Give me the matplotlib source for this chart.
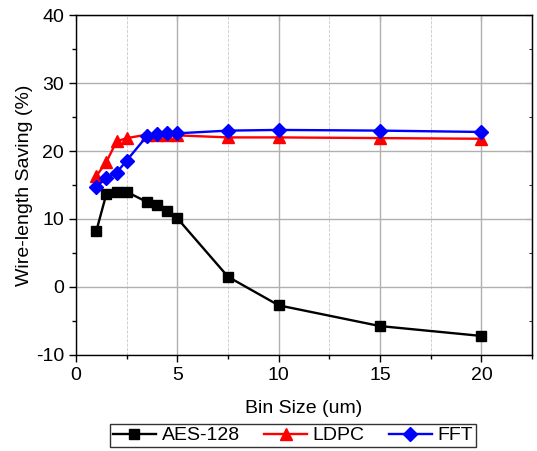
import matplotlib.pyplot as plt
from matplotlib.ticker import MultipleLocator

plt.rcParams['font.family'] = ['Liberation Sans', 'DejaVu Sans']
plt.rcParams['axes.unicode_minus'] = False

bin_size = [1, 1.5, 2, 2.5, 3.5, 4, 4.5, 5, 7.5, 10, 15, 20]
aes = [8.2, 13.7, 13.9, 14.0, 12.5, 12.0, 11.2, 10.1, 1.5, -2.7, -5.75, -7.2]
ldpc = [16.3, 18.4, 21.4, 21.9, 22.4, 22.4, 22.3, 22.3, 22.0, 22.0, 21.9, 21.8]
fft = [14.7, 16.1, 16.8, 18.6, 22.2, 22.5, 22.6, 22.6, 23.0, 23.1, 23.0, 22.8]

fig = plt.figure(figsize=(5.37, 4.51), dpi=100)
ax = fig.add_axes([0.1415, 0.2129, 0.8495, 0.7538])

ax.plot(bin_size, aes, color='black', marker='s', markersize=7.5, lw=1.7, label='AES-128', zorder=3)
ax.plot(bin_size, ldpc, color='red', marker='^', markersize=8.5, lw=1.7, label='LDPC', zorder=3)
ax.plot(bin_size, fft, color='blue', marker='D', markersize=7.5, lw=1.7, label='FFT', zorder=4)

ax.set_xlim(0, 22.5)
ax.set_ylim(-10, 40)
ax.xaxis.set_major_locator(MultipleLocator(5))
ax.xaxis.set_minor_locator(MultipleLocator(2.5))
ax.yaxis.set_major_locator(MultipleLocator(10))
ax.yaxis.set_minor_locator(MultipleLocator(5))

ax.grid(which='major', color='#b0b0b0', lw=1.0, ls='-')
ax.grid(which='minor', axis='x', color='#c8c8c8', lw=0.6, ls='--')
ax.grid(which='minor', axis='y', visible=False)

ax.tick_params(which='major', direction='out', length=5, width=1, labelsize=14)
ax.tick_params(which='minor', direction='out', length=3, width=1)
ax.tick_params(which='both', top=False, right=False)

# inward ticks on top and right
ax2 = ax.secondary_xaxis('top')
ax2.xaxis.set_major_locator(MultipleLocator(5))
ax2.xaxis.set_minor_locator(MultipleLocator(2.5))
ax2.tick_params(which='major', direction='in', length=4, labeltop=False)
ax2.tick_params(which='minor', direction='in', length=0)
ax3 = ax.secondary_yaxis('right')
ax3.yaxis.set_major_locator(MultipleLocator(10))
ax3.yaxis.set_minor_locator(MultipleLocator(5))
ax3.tick_params(which='major', direction='in', length=4, labelright=False)
ax3.tick_params(which='minor', direction='in', length=2.5)

for s in ax.spines.values():
    s.set_linewidth(1.0)

ax.set_xlabel('Bin Size (um)', fontsize=14, labelpad=12)
ax.set_ylabel('Wire-length Saving (%)', fontsize=14, labelpad=2)

fig.legend(loc='center', bbox_to_anchor=(0.546, 0.034), ncol=3, fontsize=14,
           frameon=True, fancybox=False, edgecolor='black', handlelength=2.2,
           columnspacing=1.25, handletextpad=0.3, borderpad=0.15, borderaxespad=0.3)

fig.savefig('out.png', dpi=100)
